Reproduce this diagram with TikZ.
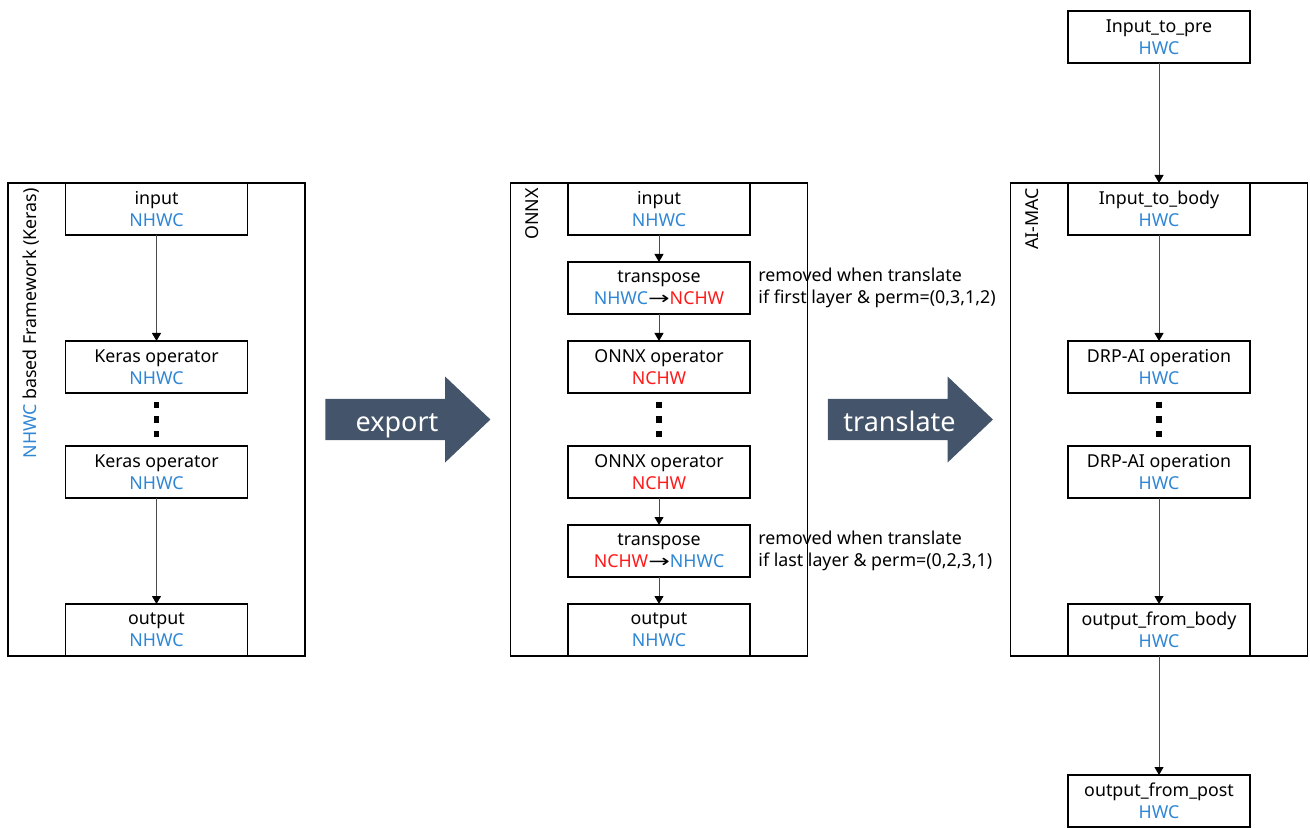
\documentclass[tikz,border=0pt]{standalone}
\usepackage{fontspec}
\setmainfont{Noto Sans}
\newfontfamily\arrfont{DejaVu Sans}
\usetikzlibrary{positioning,shapes.arrows,arrows.meta,calc}

\definecolor{fmtblue}{HTML}{2F86D4}
\definecolor{fmtred}{HTML}{FF1A1A}
\definecolor{slate}{HTML}{44546A}
\newcommand{\nhwc}{\textcolor{fmtblue}{NHWC}}
\newcommand{\nchw}{\textcolor{fmtred}{NCHW}}
\newcommand{\hwc}{\textcolor{fmtblue}{HWC}}
\newcommand{\toarr}{{\arrfont\scalebox{1.45}[1]{→}}}

\begin{document}
\begin{tikzpicture}[
    font=\fontsize{8.9}{11}\selectfont,
    stage/.style={draw, line width=0.6pt, minimum width=148.5pt, minimum height=236.5pt, inner sep=0pt, outer sep=0pt},
    opbox/.style={draw, line width=0.6pt, minimum width=91pt, minimum height=26pt, inner sep=0pt, outer sep=0pt, align=center},
    flow/.style={draw=black!70, line width=0.5pt, -{Triangle[length=4pt, width=4.5pt, black]}},
    side/.style={rotate=90, anchor=north east, inner sep=0pt},
    note/.style={align=left, inner sep=0pt},
    bigarr/.style={single arrow, fill=slate, text=white, font=\fontsize{13.5}{15}\selectfont,
        text height=15pt, text depth=3pt,
        minimum height=82.5pt, minimum width=43pt, single arrow head extend=10pt,
        single arrow tip angle=87, inner sep=0pt}
  ]

\useasboundingbox (0,0) rectangle (655pt,-414pt);

% Keras framework
\node[stage] (keras) at (78.25pt,-209.75pt) {};
\node[side] at ([xshift=7.5pt,yshift=-2.5pt]keras.north west) {\nhwc{} based Framework (Keras)};
\node[opbox, below=0pt of keras.north] (k-in) {input\\\nhwc};
\node[opbox, below=53pt of k-in] (k-op1) {Keras operator\\\nhwc};
\node[opbox, below=26.5pt of k-op1] (k-op2) {Keras operator\\\nhwc};
\node[opbox, above=0pt of keras.south] (k-out) {output\\\nhwc};

\draw[flow] (k-in) -- (k-op1);
\draw[flow] (k-op2) -- (k-out);

% export arrow
\node[bigarr, right=10pt of keras] (export) {export};

% ONNX model
\node[stage] (onnx) at (329.5pt,-209.75pt) {};
\node[side] at ([xshift=7.5pt,yshift=-2.5pt]onnx.north west) {ONNX};
\node[opbox, below=0pt of onnx.north] (o-in) {input\\\nhwc};
\node[opbox, below=13.5pt of o-in] (o-tr1) {transpose\\\nhwc\toarr\nchw};
\node[opbox, below=13.5pt of o-tr1] (o-op1) {ONNX operator\\\nchw};
\node[opbox, below=26.5pt of o-op1] (o-op2) {ONNX operator\\\nchw};
\node[opbox, above=0pt of onnx.south] (o-out) {output\\\nhwc};
\node[opbox, above=13.5pt of o-out] (o-tr2) {transpose\\\nchw\toarr\nhwc};

\node[note, right=4pt of o-tr1] (o-note1) {removed when translate\\if first layer \& perm=(0,3,1,2)};
\node[note, right=4pt of o-tr2] (o-note2) {removed when translate\\if last layer \& perm=(0,2,3,1)};

\draw[flow] (o-in) -- (o-tr1);
\draw[flow] (o-tr1) -- (o-op1);
\draw[flow] (o-op2) -- (o-tr2);
\draw[flow] (o-tr2) -- (o-out);

% translate arrow
\node[bigarr, right=10pt of onnx] (translate) {translate};

% AI-MAC
\node[stage] (aimac) at (579.5pt,-209.75pt) {};
\node[side] at ([xshift=7.5pt,yshift=-2.5pt]aimac.north west) {AI-MAC};
\node[opbox, below=0pt of aimac.north] (a-in) {Input\_to\_body\\\hwc};
\node[opbox, above=60pt of a-in] (a-pre) {Input\_to\_pre\\\hwc};
\node[opbox, below=53pt of a-in] (a-op1) {DRP-AI operation\\\hwc};
\node[opbox, below=26.5pt of a-op1] (a-op2) {DRP-AI operation\\\hwc};
\node[opbox, above=0pt of aimac.south] (a-out) {output\_from\_body\\\hwc};
\node[opbox, below=59.5pt of a-out] (a-post) {output\_from\_post\\\hwc};

\draw[flow] (a-pre) -- (a-in);
\draw[flow] (a-in) -- (a-op1);
\draw[flow] (a-op2) -- (a-out);
\draw[flow] (a-out) -- (a-post);

% vertical dots between the operators
\foreach \c in {k,o,a} {
    \coordinate (\c-mid) at ($(\c-op1.south)!0.5!(\c-op2.north)$);
    \foreach \d in {-7.25,0,7.25} {
        \fill ([yshift=\d pt]\c-mid) ++(-1.3pt,-1.6pt) rectangle ++(2.6pt,3.2pt);
    }
}

\end{tikzpicture}
\end{document}
